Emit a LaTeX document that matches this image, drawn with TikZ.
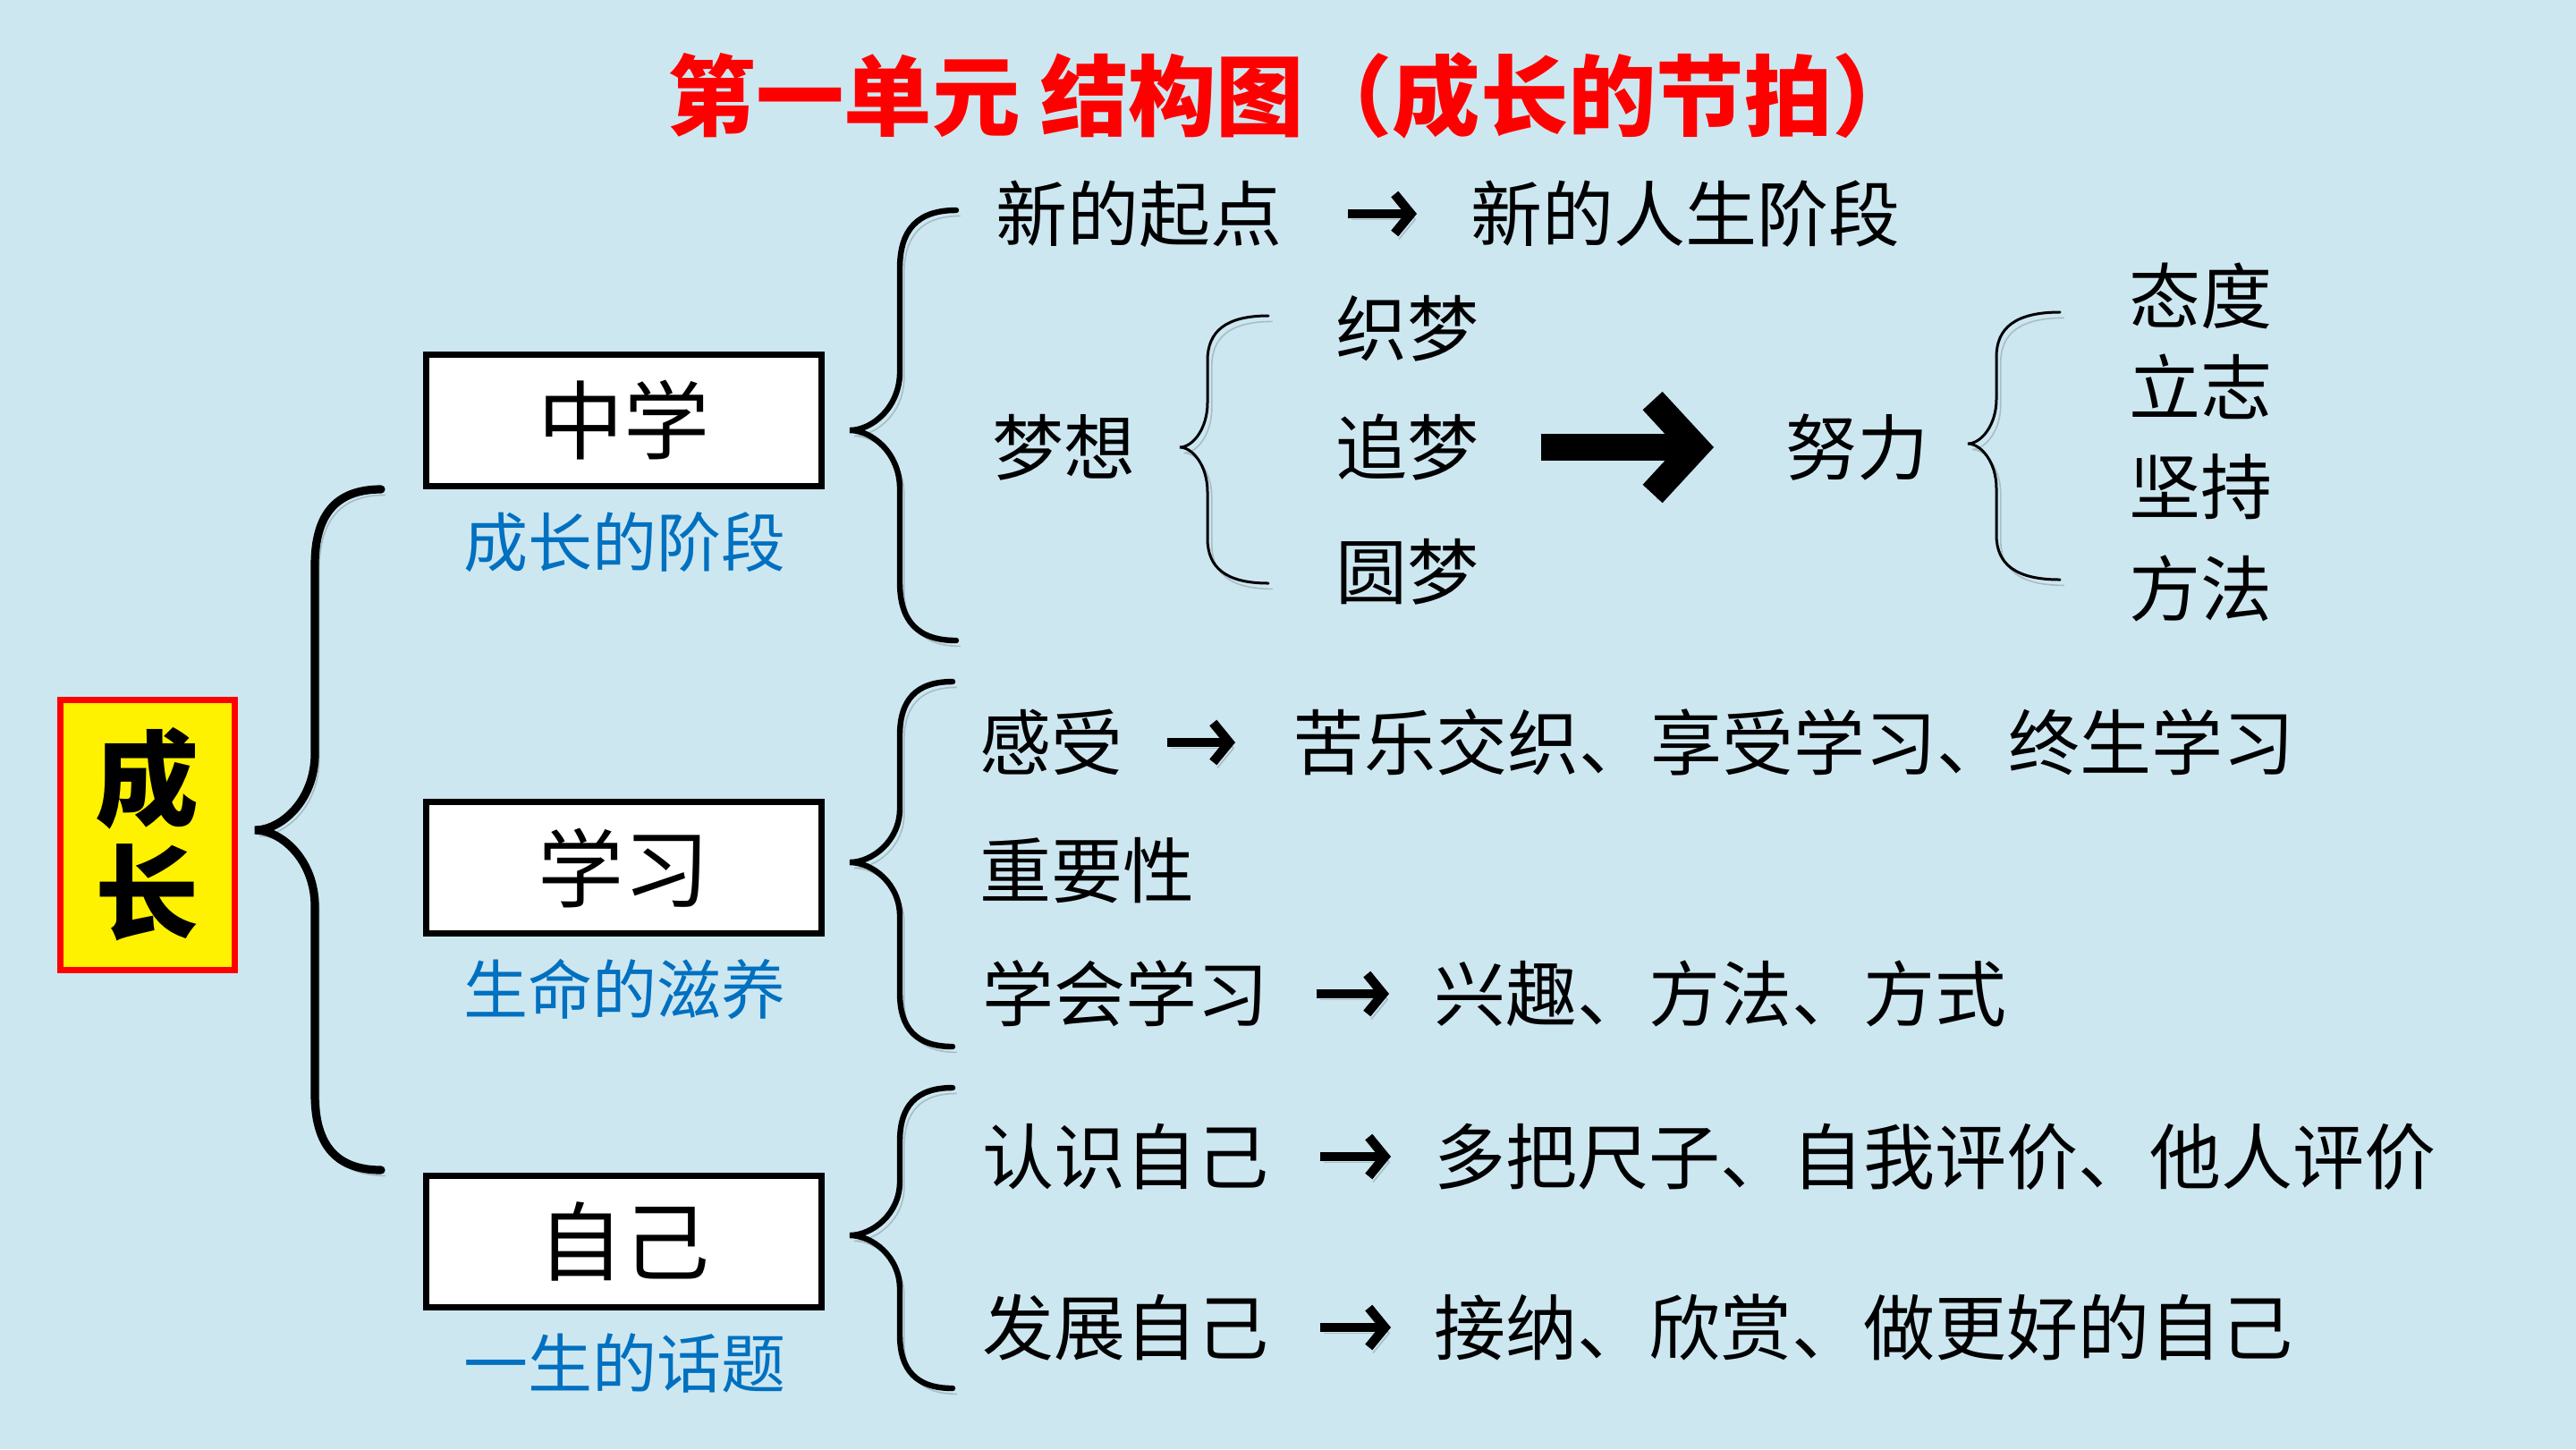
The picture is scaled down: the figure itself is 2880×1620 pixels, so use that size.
\documentclass[tikz,border=0pt]{standalone}
\usepackage{fontspec}
\setmainfont{Noto Sans CJK SC}
\usetikzlibrary{arrows.meta}
\definecolor{bgc}{RGB}{205,231,241}
\definecolor{subblue}{RGB}{0,112,192}
\definecolor{titlered}{RGB}{255,0,0}
% #1 style, #2 tip x, #3 stem x, #4 end x, #5 top y, #6 tip y, #7 bottom y, #8 curl radius
\newcommand\mybrace[8]{%
\draw[#1] (#4,#5) .. controls ({#3+0.3*(#4-#3)},#5) and (#3,{#5+0.35*#8}) .. (#3,{#5+#8})
 -- (#3,{#6-#8}) .. controls (#3,{#6-0.4*#8}) and ({#2+0.45*(#3-#2)},#6) .. (#2,#6)
 .. controls ({#2+0.45*(#3-#2)},#6) and (#3,{#6+0.4*#8}) .. (#3,{#6+#8})
 -- (#3,{#7-#8}) .. controls (#3,{#7-0.35*#8}) and ({#3+0.3*(#4-#3)},#7) .. (#4,#7);}
\tikzset{
  body/.style={font=\fontsize{20pt}{24pt}\selectfont, anchor=west, inner sep=0pt},
  sub/.style={font=\fontsize{18pt}{22pt}\selectfont, text=subblue, inner sep=0pt},
  box/.style={draw=black, line width=1.75pt, fill=white, minimum width=110.5pt,
    minimum height=36.75pt, font=\fontsize{24pt}{28pt}\selectfont, inner sep=0pt},
  softshadow/.style={preaction={draw=black, opacity=0.18, transform canvas={shift={(1.2pt,-1.6pt)}}}},
  arr/.style={line width=2.6pt, -{Straight Barb[length=4.5pt,width=11pt]}, softshadow},
  bigarr/.style={line width=7.5pt, -{Straight Barb[length=12pt,width=26pt]}, softshadow},
  bigbrace/.style={line width=2.3pt, line cap=round, softshadow},
  midbrace/.style={line width=1.6pt, line cap=round, softshadow},
  thinbrace/.style={line width=0.75pt, line cap=round, softshadow},
}
\begin{document}
\begin{tikzpicture}[x=0.25pt,y=-0.25pt]
\fill[bgc] (0,0) rectangle (2880,1620);
\useasboundingbox (0,0) rectangle (2880,1620);

% title
\node[text=titlered, font=\fontsize{24.6pt}{28pt}\selectfont\bfseries, inner sep=0pt]
  (title) at (1447,107) {第一单元 结构图（成长的节拍）};

% root
\node[draw=titlered, fill=yellow, line width=1.75pt, minimum width=48.75pt, minimum height=75.5pt,
  inner sep=0pt, align=center, font=\fontsize{29pt}{32pt}\selectfont\bfseries]
  (root) at (165,933) {成\\长};

\mybrace{bigbrace}{285}{352}{426}{547}{928}{1308}{85}

% category boxes
\node[box] (zx) at (697,470) {中学};
\node[box] (xx) at (697,970) {学习};
\node[box] (zj) at (697,1388) {自己};
\node[sub] (zxs) at (698,606) {成长的阶段};
\node[sub] (xxs) at (698,1106) {生命的滋养};
\node[sub] (zjs) at (698,1524) {一生的话题};

\mybrace{midbrace}{950}{1006}{1069}{235}{481}{716}{65}
\mybrace{midbrace}{950}{1006}{1065}{762}{964}{1170}{60}
\mybrace{midbrace}{950}{1006}{1065}{1216}{1381}{1552}{60}

% middle school branch
\node[body] (qd) at (1113,239) {新的起点};
\node[body] (rs) at (1644,239) {新的人生阶段};
\draw[arr, shorten <=18pt, shorten >=15pt] (qd.east) -- (rs.west);

\node[body] (mx) at (1109,500) {梦想};
\mybrace{thinbrace}{1319}{1350}{1418}{353}{500}{652}{50}
\node[body] (zm1) at (1493,367) {织梦};
\node[body] (zm2) at (1493,500) {追梦};
\node[body] (zm3) at (1493,639) {圆梦};
\node[body] (nl) at (1996,500) {努力};
\draw[bigarr, shorten <=17pt, shorten >=20pt] (zm2.east) -- (nl.west);
\mybrace{thinbrace}{2200}{2232}{2303}{349}{496}{648}{50}
\node[body] (td) at (2380,331) {态度};
\node[body] (lz) at (2380,432) {立志};
\node[body] (jc) at (2380,544) {坚持};
\node[body] (ff) at (2380,658) {方法};

% learning branch
\node[body] (gs) at (1095,830) {感受};
\node[body] (kl) at (1445,830) {苦乐交织、享受学习、终生学习};
\draw[arr, shorten <=12pt, shorten >=16pt] (gs.east) -- (kl.west);
\node[body] (zy) at (1095,973) {重要性};
\node[body] (xh) at (1098,1111) {学会学习};
\node[body] (xq) at (1603,1111) {兴趣、方法、方式};
\draw[arr, shorten <=13pt, shorten >=12.5pt] (xh.east) -- (xq.west);

% self branch
\node[body] (rz) at (1098,1293) {认识自己};
\node[body] (db) at (1603,1293) {多把尺子、自我评价、他人评价};
\draw[arr, shorten <=14pt, shorten >=12pt] (rz.east) -- (db.west);
\node[body] (fz) at (1098,1484) {发展自己};
\node[body] (jn) at (1603,1484) {接纳、欣赏、做更好的自己};
\draw[arr, shorten <=14pt, shorten >=12pt] (fz.east) -- (jn.west);
\end{tikzpicture}
\end{document}
